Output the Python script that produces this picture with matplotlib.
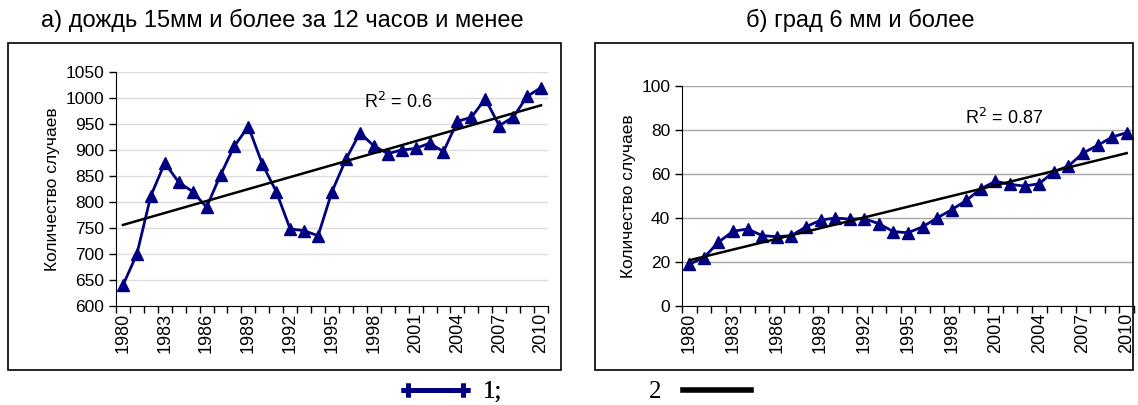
import numpy as np
import matplotlib as mpl
import matplotlib.pyplot as plt
from matplotlib.lines import Line2D

mpl.rcParams['font.family'] = ['Liberation Sans', 'DejaVu Sans']

years = list(range(1980, 2011))
rain = [640, 700, 812, 875, 838, 820, 790, 852, 908, 945,
        873, 820, 748, 745, 735, 820, 882, 933, 908, 893,
        900, 903, 913, 897, 955, 963, 998, 947, 963, 1003, 1020]
hail = [19, 22, 29, 34, 35, 32, 31.5, 32, 36, 39,
        40, 39.5, 39.7, 37.4, 33.8, 33.3, 36, 40, 43.8, 48,
        53.3, 56.7, 55.3, 54.5, 55.6, 61, 63.6, 69.5, 73, 76.8, 78.8]
titles = ["а) дождь 15мм и более за 12 часов и менее", "б) град 6 мм и более"]
r2_text = ["R$^2$ = 0.6", "R$^2$ = 0.87"]
ylabel = "Количество случаев"

navy = '#000080'
W, H = 1138, 405
fig = plt.figure(figsize=(W / 100, H / 100), dpi=100)

def fx(px):
    return px / W

def fy(py):
    return 1 - py / H

# outer frames
for x0, x1 in [(8, 561), (595, 1133)]:
    fig.patches.append(plt.Rectangle((fx(x0), fy(370)), fx(x1 - x0), (370 - 43) / H,
                                     transform=fig.transFigure, fill=False,
                                     edgecolor='black', linewidth=1.2))

def panel(rect, vals, ylim, yticks, gridcol, title, tx, r2, r2pos):
    ax = fig.add_axes(rect)
    idx = np.arange(len(years))
    coef = np.polyfit(idx, vals, 1)
    ax.plot(idx, vals, color=navy, lw=2, marker='^', ms=8.5, zorder=3)
    ax.plot(idx, np.polyval(coef, idx), color='black', lw=1.8, zorder=4)
    ax.set_xlim(-0.5, len(years) - 0.5)
    ax.set_ylim(*ylim)
    ax.set_yticks(yticks)
    ax.set_xticks(idx[::3])
    ax.set_xticklabels([str(y) for y in years[::3]], rotation=90)
    ax.set_xticks(np.arange(-0.5, len(years)), minor=True)
    ax.tick_params(axis='x', which='major', length=0, labelsize=13, pad=5)
    ax.tick_params(axis='x', which='minor', length=5, width=1)
    ax.tick_params(axis='y', length=5, width=1, labelsize=12.5)
    ax.yaxis.grid(True, color=gridcol, lw=1)
    ax.set_axisbelow(True)
    for s in ['top', 'right']:
        ax.spines[s].set_visible(False)
    ax.set_ylabel(ylabel, fontsize=12.5)
    ax.text(r2pos[0], r2pos[1], r2, fontsize=13, ha='left', va='center')
    fig.text(fx(tx), fy(20), title, fontsize=17, ha='center', va='center')
    return ax

panel([fx(116), fy(306), fx(548 - 116), (306 - 72) / H], rain, (600, 1050),
      range(600, 1051, 50), '#dcdcdc', titles[0], 282, r2_text[0], (17.3, 992))
panel([fx(682), fy(306), fx(1134 - 682), (306 - 86) / H], hail, (0, 100),
      range(0, 101, 20), '#a6a6a6', titles[1], 860, r2_text[1], (18.9, 85.5))

# legend below the panels
h1 = Line2D([], [], color=navy, lw=3.5, marker='+', ms=10, mew=3.5)
h2 = Line2D([], [], color='black', lw=4)
leg1 = fig.legend([h1], ["1;"], loc='center', bbox_to_anchor=(fx(451), fy(392)),
                  frameon=False, handlelength=2.8, numpoints=2, handletextpad=0.5,
                  prop={'family': 'Liberation Serif', 'size': 18})
fig.add_artist(leg1)
fig.legend([h2], ["2"], loc='center', bbox_to_anchor=(fx(700), fy(392)),
           frameon=False, handlelength=2.7, markerfirst=False, handletextpad=0.85,
           prop={'family': 'Liberation Serif', 'size': 18})

fig.savefig('out.png', dpi=100)
